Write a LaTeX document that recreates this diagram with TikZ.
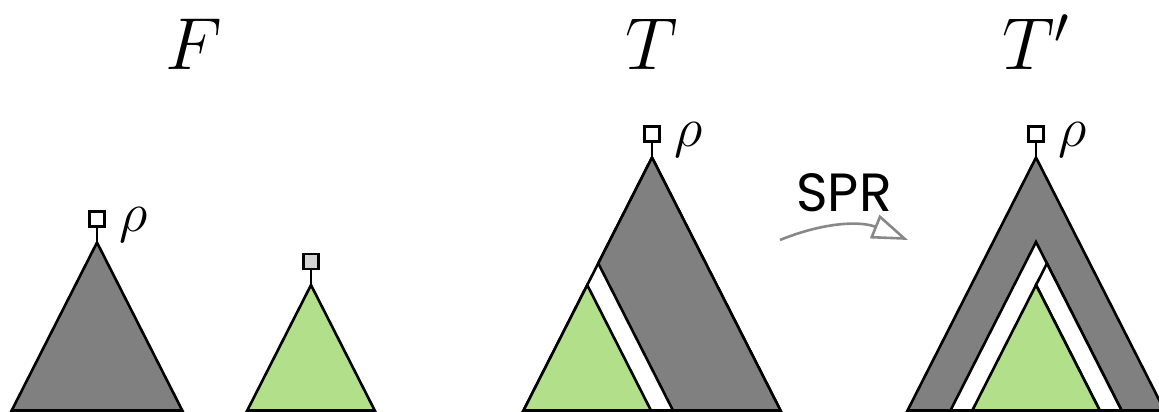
\documentclass[tikz,border=0pt]{standalone}
\usepackage{fix-cm}
\usepackage{fontspec}
\usepackage{tikz}
\usetikzlibrary{arrows.meta,positioning}
\newfontfamily\sprfont{Poppins}
\definecolor{treegray}{HTML}{808080}
\definecolor{subgreen}{HTML}{B2DF8A}
\definecolor{boxgray}{HTML}{D3D3D3}
\definecolor{arrgray}{HTML}{888888}

\begin{document}
\begin{tikzpicture}[x=0.5bp,y=0.5bp,
			tree/.style={draw=black,line width=1.3bp,line join=miter},
			graytree/.style={tree,fill=treegray},
			greentree/.style={tree,fill=subgreen},
			gap/.style={tree,fill=white},
			rootbox/.style={draw=black,line width=1.3bp,fill=white,minimum size=7.6bp,inner sep=0pt},
			stem/.style={draw=black,line width=1.3bp},
			rholabel/.style={font=\fontsize{28}{30}\selectfont,inner sep=0pt,outer sep=0pt},
			title/.style={font=\fontsize{37}{40}\selectfont,inner sep=0pt,anchor=base},
			sprtext/.style={font=\sprfont\fontsize{27}{30}\selectfont,inner sep=0pt},
			sprarrow/.style={draw=arrgray,line width=1.3bp,-{Triangle[open,length=18bp,width=12.5bp]}}
			]
			\useasboundingbox (0,-1.5) rectangle (1159,410.5);
			% titles
			\node[title] (lblF) at (193.5,340.5) {$F$};
			\node[title] (lblT) at (652,340.5) {$T$};
			\node[title] (lblTp) at (1036,340.5) {$T'$};
			% forest F
			\coordinate (f1top) at (97,168);
			\draw[graytree] (f1top) -- (11.7,0) -- (182.3,0) -- cycle;
			\node[rootbox,above=7.25bp of f1top] (f1root) {};
			\draw[stem] (f1root) -- (f1top);
			\node[rholabel,right=7bp of f1root,yshift=-3bp] (f1rho) {$\rho$};
			\coordinate (f2top) at (311,125.5);
			\draw[greentree] (f2top) -- (247.26,0) -- (374.74,0) -- cycle;
			\node[rootbox,fill=boxgray,above=7.25bp of f2top] (f2root) {};
			\draw[stem] (f2root) -- (f2top);
			% tree T
			\coordinate (t1top) at (652,253);
			\coordinate (t1cut) at (598.25,147.17);
			\coordinate (t1sub) at (587.24,125.5);
			\draw[gap] (t1top) -- (523.5,0) -- (780.5,0) -- cycle;
			\draw[graytree] (t1top) -- (t1cut) -- (673,0) -- (780.5,0) -- cycle;
			\draw[greentree] (t1sub) -- (523.5,0) -- (650.98,0) -- cycle;
			\node[rootbox,above=7.25bp of t1top] (t1root) {};
			\draw[stem] (t1root) -- (t1top);
			\node[rholabel,right=7bp of t1root,yshift=-3bp] (t1rho) {$\rho$};
			% SPR move
			\coordinate (sprfrom) at (780,170.5);
			\coordinate (sprto) at (908,170.5);
			\draw[sprarrow] (sprfrom) to[bend left=22] node[sprtext,above=6.5bp] (sprlbl) {SPR} (sprto);
			% tree T'
			\coordinate (t2top) at (1036,253);
			\coordinate (t2in) at (1036,168.5);
			\coordinate (t2cut) at (1046.92,147);
			\coordinate (t2sub) at (1036,125.5);
			\draw[graytree] (t2top) -- (907.5,0) -- (1164.5,0) -- cycle;
			\draw[gap] (t2in) -- (950.42,0) -- (1121.58,0) -- cycle;
			\draw[gap] (t2cut) -- (t2sub) -- (1099.74,0) -- (1121.58,0) -- cycle;
			\draw[greentree] (t2sub) -- (972.26,0) -- (1099.74,0) -- cycle;
			\node[rootbox,above=7.25bp of t2top] (t2root) {};
			\draw[stem] (t2root) -- (t2top);
			\node[rholabel,right=7bp of t2root,yshift=-3bp] (t2rho) {$\rho$};
		\end{tikzpicture}
\end{document}
